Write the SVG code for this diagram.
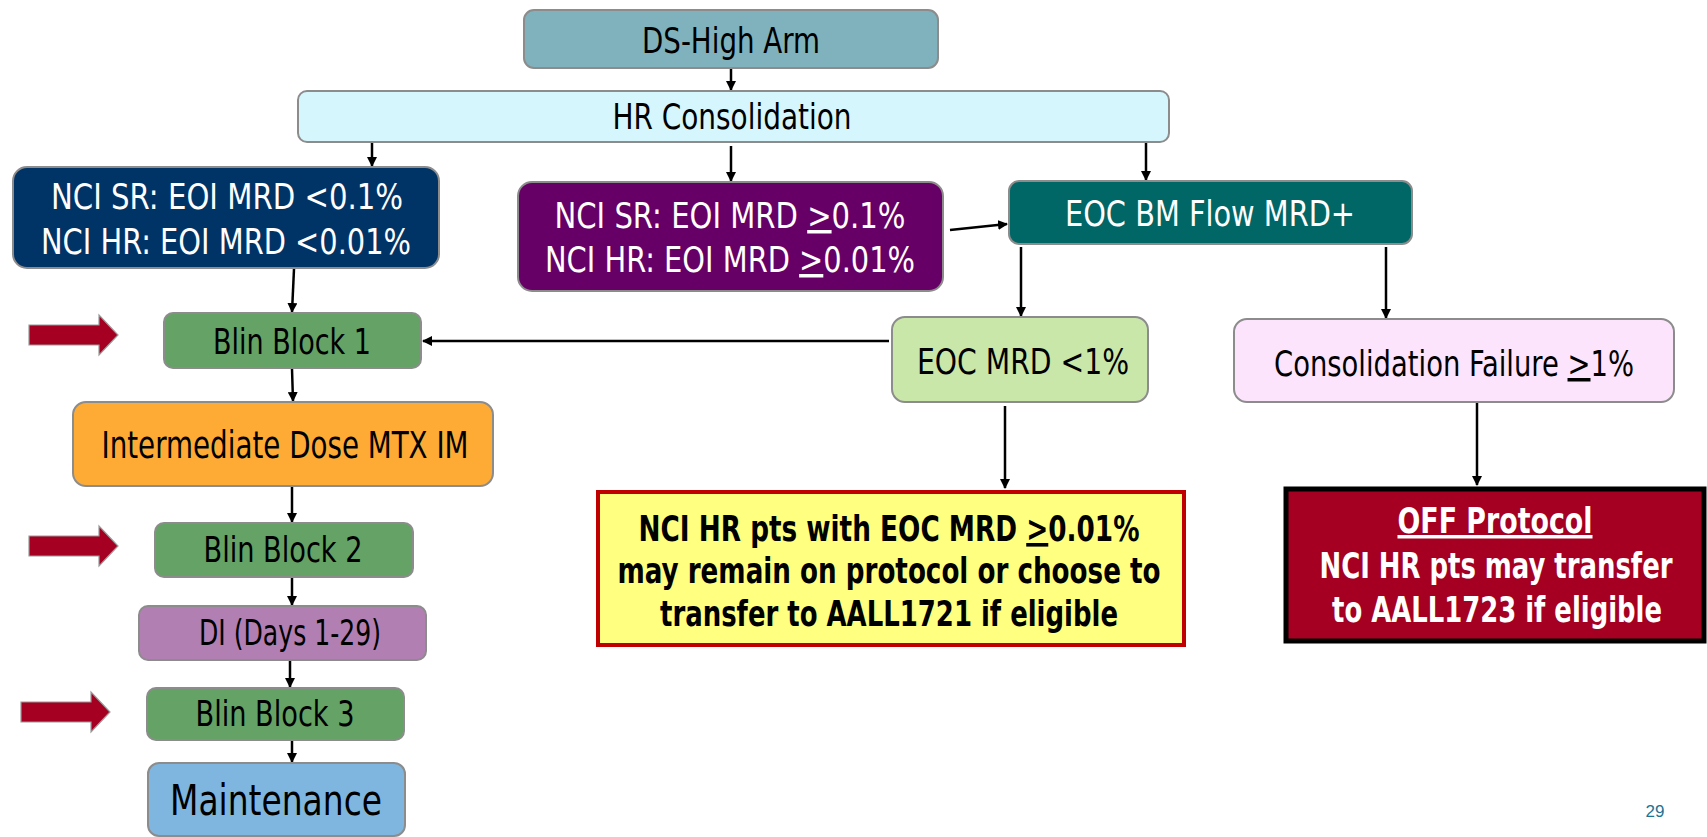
<svg xmlns="http://www.w3.org/2000/svg" width="1707" height="837" viewBox="0 0 1707 837">
<defs>
<marker id="ah" viewBox="0 0 10 10" refX="9" refY="5" markerWidth="4" markerHeight="4" orient="auto" markerUnits="strokeWidth">
<path d="M0,0 L10,5 L0,10 Z" fill="#000"/>
</marker>
<path id="redarrow" d="M0,10 H70 V0 L89,20 L70,40 V30 H0 Z"/>
</defs>
<style>
.box{stroke:#8c8c8c;stroke-width:2}
.t{font-family:"Liberation Sans Narrow","Arial Narrow","DejaVu Sans Condensed",sans-serif;font-size:35px;text-anchor:middle}
.w{fill:#fff}
.k{fill:#000}
.b{font-weight:bold}
.u{text-decoration:underline}
.c{fill:none;stroke:#000;stroke-width:2.5;marker-end:url(#ah)}
.ra{fill:#a50021;stroke:#9a9a9a;stroke-width:1.2}
</style>
<rect width="1707" height="837" fill="#fff"/>

<g id="connectors">
<line class="c" x1="731" y1="69" x2="731" y2="90"/>
<line class="c" x1="372" y1="142" x2="372" y2="166"/>
<line class="c" x1="731" y1="146" x2="731" y2="181"/>
<line class="c" x1="1146" y1="142" x2="1146" y2="180"/>
<line class="c" x1="950" y1="230" x2="1007" y2="224"/>
<line class="c" x1="1021" y1="247" x2="1021" y2="316"/>
<line class="c" x1="1386" y1="247" x2="1386" y2="318"/>
<line class="c" x1="889" y1="341" x2="423" y2="341"/>
<line class="c" x1="1005" y1="406" x2="1005" y2="488"/>
<line class="c" x1="1477" y1="402" x2="1477" y2="485"/>
<line class="c" x1="294" y1="269" x2="292" y2="312"/>
<line class="c" x1="292" y1="369" x2="293" y2="401"/>
<line class="c" x1="292" y1="487" x2="292" y2="522"/>
<line class="c" x1="292" y1="577" x2="292" y2="605"/>
<line class="c" x1="290" y1="660" x2="290" y2="687"/>
<line class="c" x1="292" y1="740" x2="292" y2="762"/>
</g>

<g id="red-arrows">
<use href="#redarrow" class="ra" transform="translate(29,315)"/>
<use href="#redarrow" class="ra" transform="translate(29,526)"/>
<use href="#redarrow" class="ra" transform="translate(21,692)"/>
</g>

<g id="ds-high-arm">
<rect class="box" x="524" y="10" width="414" height="58" rx="10" fill="#7fb2bd"/>
<text class="t k" x="731" y="53" textLength="178" lengthAdjust="spacingAndGlyphs">DS-High Arm</text>
</g>

<g id="hr-consolidation">
<rect class="box" x="298" y="91" width="871" height="51" rx="9" fill="#d6f6fd"/>
<text class="t k" x="732" y="129" textLength="239" lengthAdjust="spacingAndGlyphs">HR Consolidation</text>
</g>

<g id="nci-low">
<rect class="box" x="13" y="167" width="426" height="101" rx="14" fill="#003366"/>
<text class="t w" x="227" y="209" textLength="352" lengthAdjust="spacingAndGlyphs">NCI SR: EOI MRD &lt;0.1%</text>
<text class="t w" x="226" y="254" textLength="370" lengthAdjust="spacingAndGlyphs">NCI HR: EOI MRD &lt;0.01%</text>
</g>

<g id="nci-high">
<rect class="box" x="518" y="182" width="425" height="109" rx="14" fill="#660066"/>
<text class="t w" x="730" y="228" textLength="351" lengthAdjust="spacingAndGlyphs">NCI SR: EOI MRD <tspan class="u">&gt;</tspan>0.1%</text>
<text class="t w" x="730" y="272" textLength="370" lengthAdjust="spacingAndGlyphs">NCI HR: EOI MRD <tspan class="u">&gt;</tspan>0.01%</text>
</g>

<g id="eoc-bm">
<rect class="box" x="1009" y="181" width="403" height="63" rx="10" fill="#006666"/>
<text class="t w" x="1210" y="226" textLength="290" lengthAdjust="spacingAndGlyphs">EOC BM Flow MRD+</text>
</g>

<g id="eoc-mrd-low">
<rect class="box" x="892" y="317" width="256" height="85" rx="13" fill="#c9e7a9"/>
<text class="t k" x="1023" y="374" textLength="212" lengthAdjust="spacingAndGlyphs">EOC MRD &lt;1%</text>
</g>

<g id="consolidation-failure">
<rect class="box" x="1234" y="319" width="440" height="83" rx="13" fill="#fde4fd"/>
<text class="t k" x="1454" y="376" textLength="360" lengthAdjust="spacingAndGlyphs">Consolidation Failure <tspan class="u">&gt;</tspan>1%</text>
</g>

<g id="yellow-note">
<rect x="598" y="492" width="586" height="153" fill="#ffff80" stroke="#c00000" stroke-width="4"/>
<text class="t k b" x="889" y="541" style="font-size:36px" textLength="501" lengthAdjust="spacingAndGlyphs">NCI HR pts with EOC MRD <tspan class="u">&gt;</tspan>0.01%</text>
<text class="t k b" x="889" y="583" style="font-size:36px" textLength="543" lengthAdjust="spacingAndGlyphs">may remain on protocol or choose to</text>
<text class="t k b" x="889" y="626" style="font-size:36px" textLength="458" lengthAdjust="spacingAndGlyphs">transfer to AALL1721 if eligible</text>
</g>

<g id="off-protocol">
<rect x="1286" y="489" width="418" height="152" fill="#a50021" stroke="#000" stroke-width="5"/>
<text class="t w b u" x="1495" y="533" textLength="195" lengthAdjust="spacingAndGlyphs">OFF Protocol</text>
<text class="t w b" x="1496" y="578" textLength="353" lengthAdjust="spacingAndGlyphs">NCI HR pts may transfer</text>
<text class="t w b" x="1497" y="622" textLength="330" lengthAdjust="spacingAndGlyphs">to AALL1723 if eligible</text>
</g>

<g id="blin-block-1">
<rect class="box" x="164" y="313" width="257" height="55" rx="9" fill="#64a365"/>
<text class="t k" x="292" y="354" textLength="158" lengthAdjust="spacingAndGlyphs">Blin Block 1</text>
</g>

<g id="intermediate-dose">
<rect class="box" x="73" y="402" width="420" height="84" rx="13" fill="#fdab35"/>
<text class="t k" x="285" y="458" style="font-size:37px" textLength="367" lengthAdjust="spacingAndGlyphs">Intermediate Dose MTX IM</text>
</g>

<g id="blin-block-2">
<rect class="box" x="155" y="523" width="258" height="54" rx="9" fill="#64a365"/>
<text class="t k" x="283" y="562" textLength="159" lengthAdjust="spacingAndGlyphs">Blin Block 2</text>
</g>

<g id="di">
<rect class="box" x="139" y="606" width="287" height="54" rx="9" fill="#b17fb2"/>
<text class="t k" x="290" y="645" textLength="182" lengthAdjust="spacingAndGlyphs">DI (Days 1-29)</text>
</g>

<g id="blin-block-3">
<rect class="box" x="147" y="688" width="257" height="52" rx="9" fill="#64a365"/>
<text class="t k" x="275" y="726" textLength="159" lengthAdjust="spacingAndGlyphs">Blin Block 3</text>
</g>

<g id="maintenance">
<rect class="box" x="148" y="763" width="257" height="73" rx="11" fill="#7fb6df"/>
<text class="t k" x="276" y="815" style="font-size:43px" textLength="212" lengthAdjust="spacingAndGlyphs">Maintenance</text>
</g>

<text x="1655" y="817" style="font-family:'Liberation Sans',Arial,sans-serif;font-size:17px;fill:#1e7391;text-anchor:middle">29</text>
</svg>
